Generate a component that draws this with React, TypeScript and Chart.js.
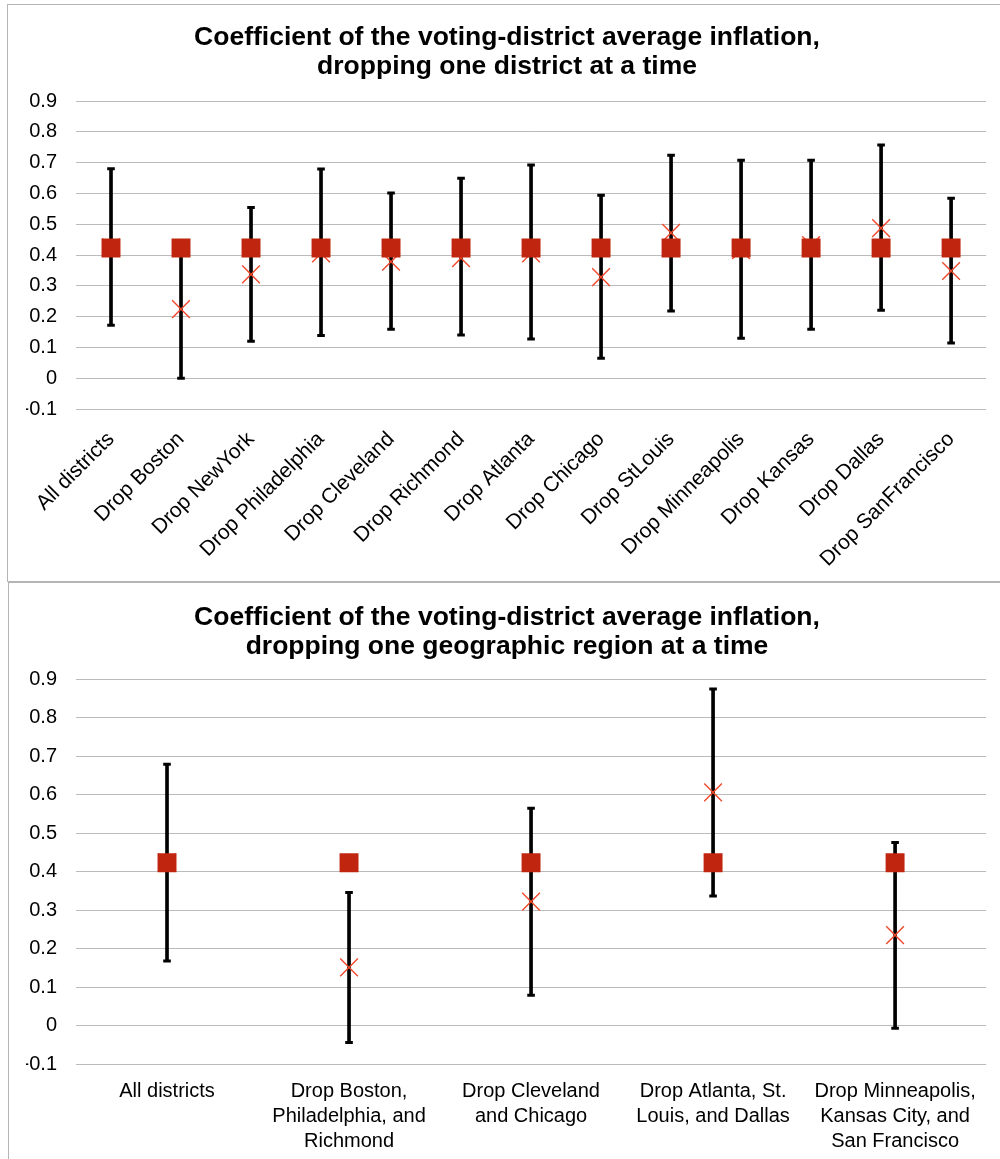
import React, { useEffect, useRef } from 'react';
import { Chart, registerables } from 'chart.js';

Chart.register(...registerables);

const FONT = "'Liberation Sans', Arial, Helvetica, sans-serif";
const SQUARE_COLOR = '#C0260F';
const CROSS_COLOR = '#F2472B';
const GRID_COLOR = '#BBBBBB';

// ---------- Top chart: dropping one district at a time ----------
const districtLabels = [
  'All districts',
  'Drop Boston',
  'Drop NewYork',
  'Drop Philadelphia',
  'Drop Cleveland',
  'Drop Richmond',
  'Drop Atlanta',
  'Drop Chicago',
  'Drop StLouis',
  'Drop Minneapolis',
  'Drop Kansas',
  'Drop Dallas',
  'Drop SanFrancisco',
];
const districtFull = [0.423, 0.423, 0.423, 0.423, 0.423, 0.423, 0.423, 0.423, 0.423, 0.423, 0.423, 0.423, 0.423];
const districtCoef = [0.425, 0.224, 0.337, 0.405, 0.378, 0.39, 0.405, 0.328, 0.472, 0.416, 0.432, 0.487, 0.348];
const districtUpper = [0.68, 0.446, 0.554, 0.679, 0.601, 0.649, 0.692, 0.594, 0.724, 0.708, 0.708, 0.757, 0.584];
const districtLower = [0.172, 0.0, 0.12, 0.139, 0.159, 0.14, 0.127, 0.065, 0.218, 0.13, 0.159, 0.221, 0.114];

// ---------- Bottom chart: dropping one geographic region at a time ----------
const regionLabels = [
  ['All districts'],
  ['Drop Boston,', 'Philadelphia, and', 'Richmond'],
  ['Drop Cleveland', 'and Chicago'],
  ['Drop Atlanta, St.', 'Louis, and Dallas'],
  ['Drop Minneapolis,', 'Kansas City, and', 'San Francisco'],
];
const regionFull = [0.423, 0.423, 0.423, 0.423, 0.423];
const regionCoef = [0.424, 0.151, 0.322, 0.606, 0.235];
const regionUpper = [0.679, 0.346, 0.565, 0.875, 0.476];
const regionLower = [0.168, -0.044, 0.079, 0.337, -0.007];

const yTickValues = [-0.1, 0, 0.1, 0.2, 0.3, 0.4, 0.5, 0.6, 0.7, 0.8, 0.9];

const topTitle = ['Coefficient of the voting-district average inflation,', 'dropping one district at a time'];
const bottomTitle = ['Coefficient of the voting-district average inflation,', 'dropping one geographic region at a time'];

type Cfg = {
  labels: any[];
  full: number[];
  coef: number[];
  upper: number[];
  lower: number[];
  title: string[];
  titleTop: number;
  titleBottom: number;
  xHeight: number;
  rotation: number;
  xPadding: number;
  xFontSize: number;
  xLineHeight: number;
};

function buildConfig(c: Cfg): any {
  return {
    type: 'bar',
    data: {
      labels: c.labels,
      datasets: [
        {
          type: 'line',
          label: 'full',
          data: c.full,
          showLine: false,
          pointStyle: 'rect',
          pointRadius: 13.4,
          pointHoverRadius: 13.4,
          pointBackgroundColor: SQUARE_COLOR,
          pointBorderColor: SQUARE_COLOR,
          pointBorderWidth: 0,
          order: 0,
        },
        {
          type: 'line',
          label: 'coef',
          data: c.coef,
          showLine: false,
          pointStyle: 'crossRot',
          pointRadius: 12.5,
          pointHoverRadius: 12.5,
          pointBorderColor: CROSS_COLOR,
          pointBackgroundColor: CROSS_COLOR,
          pointBorderWidth: 1.4,
          order: 1,
        },
        {
          type: 'line',
          label: 'upper',
          data: c.upper,
          showLine: false,
          pointStyle: 'line',
          pointRadius: 3.8,
          pointHoverRadius: 3.8,
          pointBorderColor: '#000',
          pointBorderWidth: 3,
          order: 2,
        },
        {
          type: 'line',
          label: 'lower',
          data: c.lower,
          showLine: false,
          pointStyle: 'line',
          pointRadius: 3.8,
          pointHoverRadius: 3.8,
          pointBorderColor: '#000',
          pointBorderWidth: 3,
          order: 2,
        },
        {
          type: 'bar',
          label: 'range',
          data: c.lower.map((l, i) => [l, c.upper[i]]),
          backgroundColor: '#000',
          borderWidth: 0,
          barThickness: 3,
          order: 3,
        },
      ],
    },
    options: {
      responsive: false,
      animation: false,
      events: [],
      layout: { padding: { left: 26, right: 12, top: 0, bottom: 0 } },
      plugins: {
        legend: { display: false },
        tooltip: { enabled: false },
        title: {
          display: true,
          text: c.title,
          color: '#000',
          font: { family: FONT, size: 26.5, weight: 'bold', lineHeight: 1.1 },
          padding: { top: c.titleTop, bottom: c.titleBottom },
        },
      },
      scales: {
        x: {
          grid: { display: false, drawTicks: false },
          border: { display: false },
          ticks: {
            autoSkip: false,
            minRotation: c.rotation,
            maxRotation: c.rotation,
            padding: c.xPadding,
            color: '#000',
            font: { family: FONT, size: c.xFontSize, lineHeight: c.xLineHeight },
          },
          afterFit: (s: any) => {
            s.height = c.xHeight;
          },
        },
        y: {
          min: -0.1,
          max: 0.9,
          grid: { color: GRID_COLOR, lineWidth: 1, drawTicks: false },
          border: { display: false },
          ticks: {
            padding: 19,
            color: '#000',
            font: { family: FONT, size: 20 },
            callback: (v: any) => String(Math.round(Number(v) * 10) / 10),
          },
          afterBuildTicks: (s: any) => {
            s.ticks = yTickValues.map((v) => ({ value: v }));
          },
          afterFit: (s: any) => {
            s.width = 50;
          },
        },
      },
    },
  };
}

export default function App() {
  const topRef = useRef<HTMLCanvasElement | null>(null);
  const bottomRef = useRef<HTMLCanvasElement | null>(null);

  useEffect(() => {
    const charts: Chart[] = [];
    if (topRef.current) {
      charts.push(
        new Chart(
          topRef.current,
          buildConfig({
            labels: districtLabels,
            full: districtFull,
            coef: districtCoef,
            upper: districtUpper,
            lower: districtLower,
            title: topTitle,
            titleTop: 23,
            titleBottom: 19.7,
            xHeight: 171,
            rotation: 45,
            xPadding: 18,
            xFontSize: 21,
            xLineHeight: 1.2,
          })
        )
      );
    }
    if (bottomRef.current) {
      charts.push(
        new Chart(
          bottomRef.current,
          buildConfig({
            labels: regionLabels,
            full: regionFull,
            coef: regionCoef,
            upper: regionUpper,
            lower: regionLower,
            title: bottomTitle,
            titleTop: 21,
            titleBottom: 18,
            xHeight: 95,
            rotation: 0,
            xPadding: 15,
            xFontSize: 20,
            xLineHeight: 1.25,
          })
        )
      );
    }
    return () => {
      charts.forEach((ch) => ch.destroy());
    };
  }, []);

  return (
    <div
      style={{
        position: 'absolute',
        left: 0,
        top: 0,
        width: 1000,
        height: 1159,
        overflow: 'hidden',
        background: '#fff',
      }}
    >
      <div
        style={{
          position: 'absolute',
          left: 7,
          top: 4,
          width: 1010,
          height: 576,
          border: '1px solid #B5B5B5',
        }}
      />
      <div
        style={{
          position: 'absolute',
          left: 8,
          top: 582,
          width: 1010,
          height: 620,
          border: '1px solid #B5B5B5',
        }}
      />
      <canvas
        ref={topRef}
        width={1000}
        height={580}
        style={{ position: 'absolute', left: 0, top: 0, width: 1000, height: 580 }}
      />
      <canvas
        ref={bottomRef}
        width={1000}
        height={577}
        style={{ position: 'absolute', left: 0, top: 582, width: 1000, height: 577 }}
      />
    </div>
  );
}
